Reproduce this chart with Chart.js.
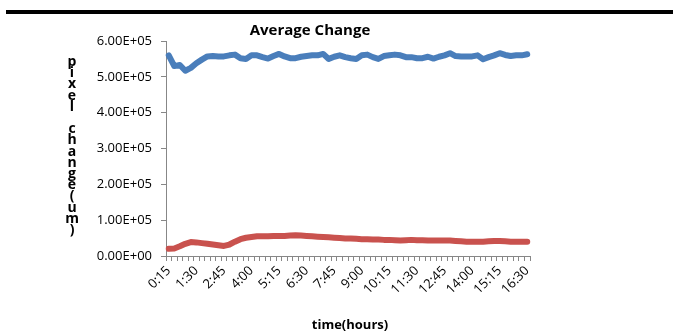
<!DOCTYPE html>
<html>
<head>
<meta charset="utf-8">
<script src="https://cdn.jsdelivr.net/npm/chart.js@4"></script>
<style>
  html, body { margin: 0; padding: 0; background: #fff; }
  canvas { display: block; }
</style>
</head>
<body>
<canvas id="chart" width="673" height="333"></canvas>
<script>
// time labels (every 15 minutes)
const times = ['0:15','0:30','0:45','1:00','1:15','1:30','1:45','2:00','2:15','2:30','2:45','3:00','3:15','3:30','3:45',
    '4:00','4:15','4:30','4:45','5:00','5:15','5:30','5:45','6:00','6:15','6:30','6:45','7:00','7:15','7:30','7:45',
    '8:00','8:15','8:30','8:45','9:00','9:15','9:30','9:45','10:00','10:15','10:30','10:45','11:00','11:15','11:30','11:45',
    '12:00','12:15','12:30','12:45','13:00','13:15','13:30','13:45','14:00','14:15','14:30','14:45','15:00','15:15','15:30','15:45',
    '16:00','16:15','16:30'];

// blue series
const upper = [560000, 530000, 533000, 517000, 525000, 538000, 548000, 557000, 558000, 557000,
    557000, 560000, 562000, 552000, 550000, 560000, 560000, 555000, 551000, 558000,
    564000, 557000, 552000, 552000, 556000, 558000, 560000, 560000, 564000, 550000,
    556000, 560000, 555000, 552000, 550000, 560000, 562000, 555000, 550000, 558000,
    560000, 562000, 560000, 555000, 555000, 552000, 552000, 556000, 551000, 556000,
    560000, 566000, 558000, 557000, 557000, 557000, 560000, 549000, 555000, 560000,
    566000, 561000, 558000, 560000, 560000, 563000];

// red series
const lower = [20000, 21000, 27000, 34000, 39000, 38000, 36000, 34000, 32000, 30000,
    28000, 32000, 40000, 47000, 51000, 53000, 55000, 55000, 55000, 56000,
    56000, 56000, 57000, 58000, 57000, 56000, 55000, 54000, 53000, 52000,
    51000, 50000, 49000, 49000, 48000, 47000, 47000, 46000, 46000, 45000,
    45000, 44000, 43000, 44000, 45000, 44000, 44000, 43000, 43000, 43000,
    43000, 43000, 42000, 41000, 40000, 40000, 40000, 40000, 41000, 42000,
    42000, 41000, 40000, 40000, 40000, 40000];

const yTicks = [0, 100000, 200000, 300000, 400000, 500000, 600000];

const title = 'Average Change';
const yTitle = 'pixel change(um)';
const xTitle = 'time(hours)';

const axisGray = '#878787';
const font = '"Open Sans", "Liberation Sans", sans-serif';

// 6.00E+05 style
const sci = v => {
    if (v === 0) return '0.00E+00';
    const e = Math.floor(Math.log10(Math.abs(v)));
    const m = (v / Math.pow(10, e)).toFixed(2);
    return m + 'E' + (e < 0 ? '-' : '+') + String(Math.abs(e)).padStart(2, '0');
};

const decorations = {
    id: 'decorations',
    afterDraw(chart) {
        const ctx = chart.ctx;
        ctx.save();
        // rule across the top
        ctx.fillStyle = '#000';
        ctx.fillRect(6, 10, 667, 4);

        ctx.textAlign = 'center';
        ctx.textBaseline = 'middle';
        ctx.font = 'bold 15px ' + font;
        ctx.fillText(title, 310, 31);

        ctx.font = 'bold 13px ' + font;
        ctx.fillText(xTitle, 350, 325);

        // stacked vertical axis title
        ctx.font = 'bold 14px ' + font;
        yTitle.split('').forEach((c, i) => {
            if (c !== ' ') ctx.fillText(c, 72, 62 + i * 11.2);
        });
        ctx.restore();
    }
};

new Chart(document.getElementById('chart').getContext('2d'), {
    type: 'line',
    data: {
        labels: times,
        datasets: [
            {
                data: upper,
                borderColor: '#4a7ebb',
                borderWidth: 6,
                pointRadius: 0,
                borderCapStyle: 'round',
                borderJoinStyle: 'round',
                tension: 0
            },
            {
                data: lower,
                borderColor: '#c9524e',
                borderWidth: 6,
                pointRadius: 0,
                borderCapStyle: 'round',
                borderJoinStyle: 'round',
                tension: 0
            }
        ]
    },
    options: {
        responsive: false,
        animation: false,
        layout: { padding: { top: 41, right: 143, bottom: 0, left: 0 } },
        plugins: {
            legend: { display: false },
            title: { display: false },
            tooltip: { enabled: false }
        },
        scales: {
            x: {
                type: 'category',
                offset: true,
                afterFit: s => { s.height = 77; },
                border: { display: true, color: axisGray, width: 1 },
                grid: {
                    offset: true,
                    drawOnChartArea: false,
                    drawTicks: true,
                    tickLength: 5,
                    color: axisGray
                },
                ticks: {
                    autoSkip: false,
                    maxRotation: 45,
                    minRotation: 45,
                    padding: 2,
                    color: '#000',
                    font: { family: font, size: 13 },
                    callback: (v, i) => (i % 5 === 0 ? times[i] : '')
                }
            },
            y: {
                min: 0,
                max: 600000,
                afterFit: s => { s.width = 166; },
                afterBuildTicks: s => { s.ticks = yTicks.map(v => ({ value: v })); },
                border: { display: true, color: axisGray, width: 1 },
                grid: {
                    drawOnChartArea: false,
                    drawTicks: true,
                    tickLength: 5,
                    color: axisGray
                },
                ticks: {
                    padding: 9,
                    color: '#000',
                    font: { family: font, size: 13 },
                    callback: v => sci(v)
                }
            }
        }
    },
    plugins: [decorations]
});
</script>
</body>
</html>
